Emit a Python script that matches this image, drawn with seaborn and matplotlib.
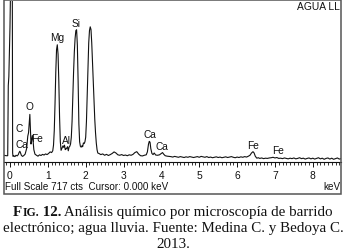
"""
plot.py  ·  EDS spectrum (agua lluvia) recreated with seaborn
Run:  python plot.py   ->  out.png
"""

import matplotlib
matplotlib.use("Agg")
import matplotlib.pyplot as plt
from matplotlib.patches import Rectangle
from matplotlib.offsetbox import TextArea, HPacker, AnnotationBbox
from matplotlib.ticker import MultipleLocator
import seaborn as sns

# ── 1.  DATA  ─────────────────────────────────────────────────────────────
energy_kev = [
    -0.16, -0.10, -0.06, -0.045, -0.03, 0.00, 0.026, 0.06, 0.07, 0.08,
    0.10, 0.13, 0.16, 0.19, 0.22, 0.24, 0.26, 0.28, 0.30, 0.33, 0.36,
    0.40, 0.44, 0.47, 0.49, 0.51, 0.525, 0.54, 0.555, 0.57, 0.59, 0.61,
    0.63, 0.66, 0.70, 0.74, 0.78, 0.82, 0.86, 0.90, 0.94, 0.98, 1.02,
    1.06, 1.10, 1.13, 1.15, 1.17, 1.19, 1.21, 1.23, 1.25, 1.27, 1.29,
    1.31, 1.33, 1.35, 1.37, 1.40, 1.42, 1.44, 1.46, 1.48, 1.50, 1.52,
    1.54, 1.56, 1.58, 1.60, 1.62, 1.64, 1.66, 1.68, 1.70, 1.72, 1.74,
    1.76, 1.78, 1.80, 1.82, 1.84, 1.86, 1.88, 1.90, 1.92, 1.94, 1.96,
    1.98, 2.00, 2.02, 2.04, 2.06, 2.08, 2.10, 2.12, 2.14, 2.16, 2.18,
    2.20, 2.22, 2.24, 2.26, 2.28, 2.30, 2.32,
    2.35, 2.40, 2.45, 2.50, 2.55, 2.60, 2.65, 2.70, 2.75, 2.80, 2.85,
    2.90, 2.95, 3.00, 3.05, 3.10, 3.15, 3.20, 3.25, 3.30, 3.35, 3.40,
    3.45, 3.50, 3.55, 3.60, 3.63, 3.66, 3.68, 3.70, 3.72, 3.75, 3.78,
    3.81, 3.85, 3.90, 3.95, 4.00, 4.03, 4.06, 4.10, 4.15, 4.20,
    4.25, 4.30, 4.35, 4.40, 4.45, 4.50, 4.55, 4.60, 4.65, 4.70, 4.75,
    4.80, 4.85, 4.90, 4.95, 5.00, 5.05, 5.10, 5.15, 5.20, 5.25, 5.30,
    5.35, 5.40, 5.45, 5.50, 5.55, 5.60, 5.65, 5.70, 5.75, 5.80, 5.85,
    5.90, 5.95, 6.00, 6.05, 6.10, 6.15, 6.20, 6.25, 6.30,
    6.34, 6.38, 6.42, 6.45, 6.48, 6.52, 6.56, 6.60, 6.65, 6.70, 6.75,
    6.80, 6.85, 6.90, 6.95, 7.00, 7.05, 7.10, 7.15, 7.20, 7.25, 7.30,
    7.35, 7.40, 7.45, 7.50, 7.55, 7.60, 7.65, 7.70, 7.75, 7.80, 7.85,
    7.90, 7.95, 8.00, 8.05, 8.10, 8.15, 8.20, 8.25, 8.30, 8.35, 8.40,
    8.45, 8.50, 8.55, 8.60, 8.65, 8.70, 8.75,
]
counts = [
    30, 28, 28, 340, 380, 600, 900, 900, 40, 25,
    28, 24, 30, 27, 33, 42, 48, 40, 30, 25, 28,
    35, 60, 115, 130, 180, 212, 150, 80, 95, 118, 95,
    55, 35, 30, 26, 32, 29, 34, 31, 36, 33, 38,
    45, 42, 50, 75, 140, 260, 400, 500, 522, 480, 360,
    200, 90, 52, 60, 72, 65, 75, 55, 58, 62, 68,
    50, 66, 70, 80, 110, 180, 290, 400, 490, 550, 585,
    589, 520, 360, 170, 90, 70, 66, 72, 68, 85, 82,
    90, 110, 180, 300, 430, 530, 585, 602, 590, 530, 450,
    360, 270, 190, 130, 85, 55, 40,
    38, 33, 36, 30, 34, 29, 33, 38, 45, 40, 32,
    30, 33, 29, 31, 28, 32, 30, 34, 42, 46, 35,
    28, 27, 30, 32, 45, 80, 92, 88, 60, 38, 33,
    40, 31, 30, 32, 38, 42, 35, 28, 26, 25,
    24, 22, 25, 23, 21, 24, 22, 20, 23, 21, 24,
    22, 20, 22, 24, 21, 25, 23, 21, 24, 20, 22,
    19, 21, 23, 20, 22, 19, 21, 23, 20, 22, 24,
    21, 19, 22, 20, 23, 21, 24, 22, 26,
    30, 40, 46, 40, 26, 17, 19, 16, 18, 15, 17,
    16, 18, 19, 21, 18, 20, 16, 17, 15, 18, 16,
    14, 17, 15, 18, 14, 16, 19, 15, 17, 13, 16,
    18, 14, 17, 13, 16, 19, 14, 17, 12, 16, 18,
    13, 17, 12, 15, 18, 13, 15,
]

FULL_SCALE = 717
peak_labels = ["Si", "Mg", "O", "C", "Ca", "Fe", "Al", "Ca", "Ca", "Fe", "Fe"]
peak_label_kev = [1.757, 1.25, 0.51, 0.246, 0.317, 0.705, 1.48, 3.70, 4.02, 6.41, 7.07]
peak_label_cts = [619, 555, 248, 151, 79, 105, 99, 125, 71, 76, 55]
tick_values = list(range(0, 9))

# ── 2.  STYLE  ────────────────────────────────────────────────────────────
sns.set_style("white")
plt.rcParams["font.family"] = ["Liberation Sans", "DejaVu Sans"]
W, H = 346, 253
fig = plt.figure(figsize=(W / 100, H / 100), dpi=100)

# outer instrument frame
fig.add_artist(Rectangle((3.5 / W, 1 - 195 / H), 337.5 / W, 194 / H,
                         transform=fig.transFigure, fill=False,
                         ec="#555555", lw=1.1))

# ── 3.  SPECTRUM  ─────────────────────────────────────────────────────────
ax = fig.add_axes([4 / W, 1 - 163 / H, 337 / W, 161 / H])
sns.lineplot(x=energy_kev, y=counts, ax=ax, color="#111111", lw=0.8,
             estimator=None, sort=False)
ax.set_xlim(-0.158, 8.745)
ax.set_ylim(0, FULL_SCALE)
for side in ("top", "left", "right"):
    ax.spines[side].set_visible(False)
ax.spines["bottom"].set_color("#111111")
ax.spines["bottom"].set_linewidth(0.8)
ax.set_yticks([])
ax.set_xticks(tick_values)
ax.set_xticklabels([str(v) for v in tick_values])
ax.xaxis.set_minor_locator(MultipleLocator(0.1))
ax.tick_params(axis="x", which="major", bottom=True, length=3.4, width=0.7,
               pad=2.2, labelsize=7.4, colors="#111111")
ax.tick_params(axis="x", which="minor", bottom=True, length=2, width=0.6,
               colors="#111111")
ax.set_xlabel("")
ax.set_ylabel("")
ax.patch.set_alpha(0)

for lab, xk, yc in zip(peak_labels, peak_label_kev, peak_label_cts):
    ax.text(xk, yc, lab, ha="center", va="center", fontsize=7.3,
            color="#111111")

fig.text(340 / W, 1 - 7 / H, "AGUA LL", ha="right", va="center",
         fontsize=7.4, color="#111111")
fig.text(5 / W, 1 - 187 / H, "Full Scale 717 cts  Cursor: 0.000 keV",
         ha="left", va="center", fontsize=7.1, color="#111111")
fig.text(340 / W, 1 - 187 / H, "keV", ha="right", va="center",
         fontsize=7.1, color="#111111")

# ── 4.  CAPTION  ──────────────────────────────────────────────────────────
SERIF = ["Liberation Serif", "DejaVu Serif"]
CAP = 10.8


def caption_line(y_px, pieces):
    boxes = [TextArea(t, textprops=dict(family=SERIF, size=s, weight=w,
                                        color="#111111"))
             for t, s, w in pieces]
    pack = HPacker(children=boxes, pad=0, sep=0, align="baseline")
    ab = AnnotationBbox(pack, (0.5, 1 - y_px / H), xycoords="figure fraction",
                        frameon=False, box_alignment=(0.5, 0.5), pad=0)
    fig.add_artist(ab)


caption_line(212.7, [("F", CAP, "bold"), ("IG.", CAP * 0.78, "bold"),
                     (" 12.", CAP, "bold"),
                     (" Análisis químico por microscopía de barrido", CAP, "normal")])
caption_line(228.3, [("electrónico; agua lluvia. Fuente: Medina C. y Bedoya C.",
                      CAP, "normal")])
caption_line(244.3, [("2013.", CAP, "normal")])

fig.savefig("out.png", dpi=100)
